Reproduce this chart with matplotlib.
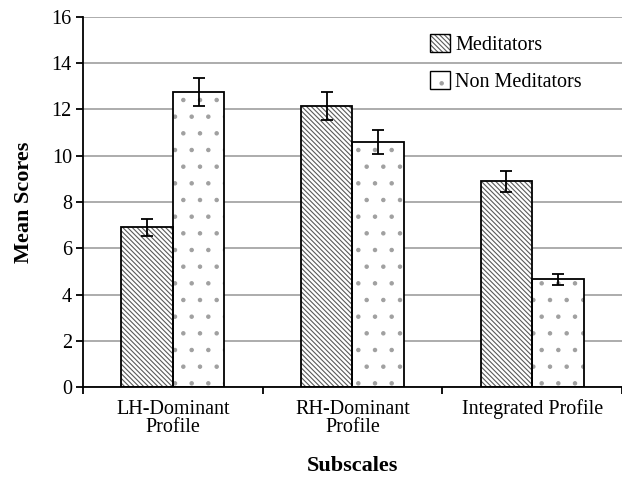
import numpy as np
import matplotlib
matplotlib.use('Agg')
import matplotlib.pyplot as plt
from matplotlib.patches import Patch
from matplotlib.legend_handler import HandlerTuple

plt.rcParams['font.family'] = ['Liberation Serif', 'DejaVu Serif']
plt.rcParams['hatch.linewidth'] = 0.8

categories = ['LH-Dominant\nProfile', 'RH-Dominant\nProfile', 'Integrated Profile']
meditators = [6.9, 12.15, 8.9]
meditators_err = [0.35, 0.6, 0.45]
non_meditators = [12.75, 10.6, 4.65]
non_meditators_err = [0.62, 0.52, 0.22]

x = np.arange(len(categories))
width = 0.286

fig = plt.figure(figsize=(6.22, 4.82), dpi=100)
ax = fig.add_axes([0.1334, 0.197, 0.8666, 0.768])

ax.yaxis.grid(True, color='#a6a6a6', linewidth=1.3)
ax.set_axisbelow(True)

series = [
    (meditators, meditators_err, -width / 2, '\\' * 7, '#5a5a5a', 'Meditators'),
    (non_meditators, non_meditators_err, width / 2, '.', '#a0a0a0', 'Non Meditators'),
]
handles = []
for vals, errs, off, hatch, hcol, label in series:
    ax.bar(x + off, vals, width, color='white', edgecolor=hcol,
           hatch=hatch, linewidth=0, zorder=2)
    ax.bar(x + off, vals, width, color='none', edgecolor='black',
           linewidth=1.3, zorder=3)
    ax.errorbar(x + off, vals, yerr=errs, fmt='none', ecolor='black',
                elinewidth=1.3, capsize=4, capthick=1.3, zorder=4)
    handles.append((Patch(facecolor='white', edgecolor=hcol, hatch=hatch, linewidth=0),
                    Patch(facecolor='none', edgecolor='black', linewidth=1.0)))

ax.set_xlim(-0.5, 2.5)
ax.set_ylim(0, 16)
ax.set_yticks(np.arange(0, 17, 2))
ax.set_xticks(x)
ax.set_xticklabels(categories, fontsize=14.5, linespacing=0.95)
ax.set_xticks(np.arange(-0.5, 3.0, 1.0), minor=True)
ax.tick_params(axis='x', which='major', length=0, pad=9)
ax.tick_params(axis='x', which='minor', length=5, width=1.3, direction='out')
ax.tick_params(axis='y', length=5, width=1.3, direction='out', labelsize=14.5, pad=3)

for s in ['top', 'right']:
    ax.spines[s].set_visible(False)
for s in ['left', 'bottom']:
    ax.spines[s].set_linewidth(1.3)

ax.set_xlabel('Subscales', fontsize=16, fontweight='bold', labelpad=14)
ax.set_ylabel('Mean Scores', fontsize=16, fontweight='bold', labelpad=13)

ax.legend(handles, ['Meditators', 'Non Meditators'],
          handler_map={tuple: HandlerTuple(ndivide=1, pad=0)},
          loc='upper left', bbox_to_anchor=(0.618, 0.992), frameon=False,
          fontsize=14.5, handlelength=1.0, handleheight=1.0, borderpad=0.2,
          labelspacing=0.8, handletextpad=0.25)

fig.savefig('out.png', dpi=100)
